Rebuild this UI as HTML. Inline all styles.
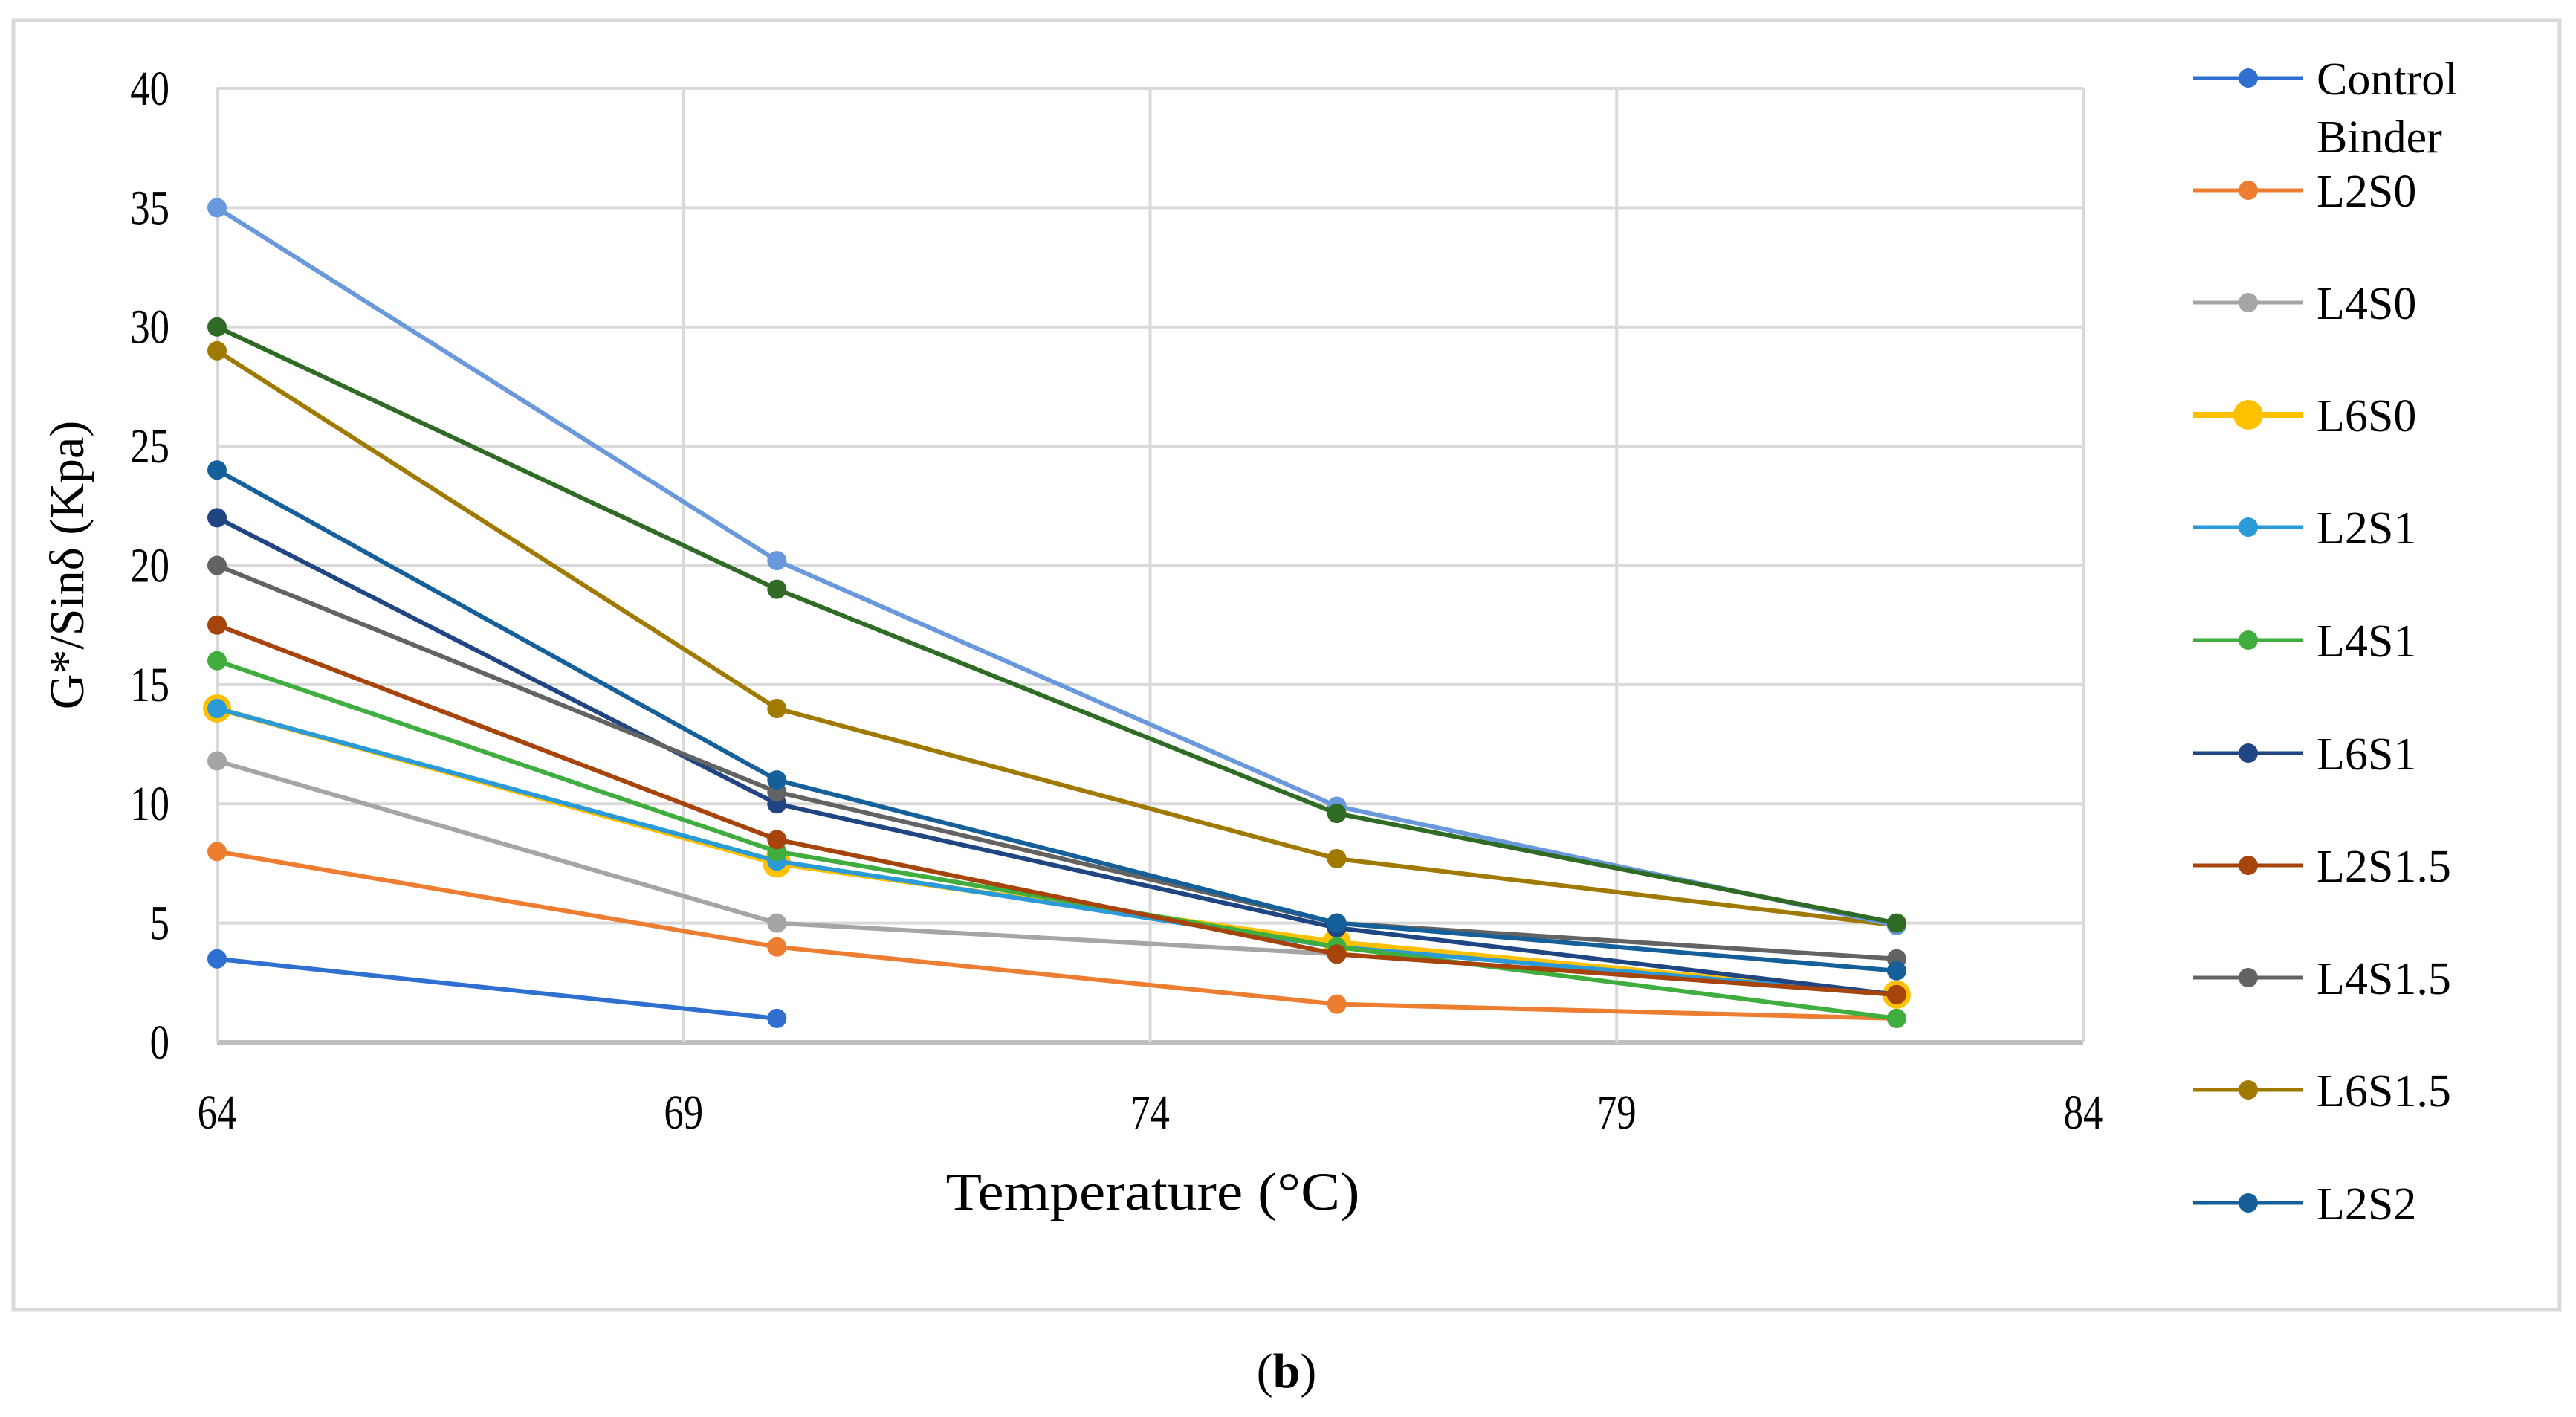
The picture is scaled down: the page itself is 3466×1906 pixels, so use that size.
<!DOCTYPE html>
<html><head><meta charset="utf-8"><style>
html,body{margin:0;padding:0;background:#fff;}
svg{display:block;}
text{font-family:"Liberation Serif",serif;fill:#000;}
</style></head><body>
<svg id="chart" width="3466" height="1906" xmlns="http://www.w3.org/2000/svg">
<rect x="18" y="27" width="3426" height="1735" fill="#fff" stroke="#d9d9d9" stroke-width="5"/>
<g id="grid"></g>
<g id="axes"></g>
<g id="series"></g>
<g id="legend"></g>
<text x="1551" y="1627" font-size="72" text-anchor="middle" textLength="557" lengthAdjust="spacingAndGlyphs">Temperature (°C)</text>
<text transform="translate(112,760) rotate(-90)" font-size="66" text-anchor="middle">G*/Sinδ (Kpa)</text>
<text x="1731" y="1866" font-size="66" text-anchor="middle">(<tspan font-weight="bold">b</tspan>)</text>
</svg>
<script>
const xValues = [64, 70, 76, 82];
const xTicks = [64, 69, 74, 79, 84];
const yTicks = [0, 5, 10, 15, 20, 25, 30, 35, 40];
const seriesNames = ["Control Binder","L2S0","L4S0","L6S0","L2S1","L4S1","L6S1","L2S1.5","L4S1.5","L6S1.5","L2S2","L4S2","L6S2"];
const sControl = [3.5, 1, null, null];
const sL2S0 = [8, 4, 1.6, 1];
const sL4S0 = [11.8, 5, 3.7, 2];
const sL6S0 = [14, 7.5, 4.2, 2];
const sL2S1 = [14, 7.6, 4, 2];
const sL4S1 = [16, 8, 4, 1];
const sL6S1 = [22, 10, 4.8, 2];
const sL2S15 = [17.5, 8.5, 3.7, 2];
const sL4S15 = [20, 10.5, 5, 3.5];
const sL6S15 = [29, 14, 7.7, 4.9];
const sL2S2 = [24, 11, 5, 3];
const sL4S2 = [35, 20.2, 9.9, 4.9];
const sL6S2 = [30, 19, 9.6, 5];
const seriesValues = [sControl,sL2S0,sL4S0,sL6S0,sL2S1,sL4S1,sL6S1,sL2S15,sL4S15,sL6S15,sL2S2,sL4S2,sL6S2];
const colors = ["#2f6fd0","#ED7D31","#A5A5A5","#FFC000","#2a9ad8","#3fae3f","#1f4683","#a6440c","#636363","#a07a00","#15609a","#6a98dc","#2f6b24"];
const legendCount = 11;

const NS = "http://www.w3.org/2000/svg";
const X0=292, X1=2803, Y0=1402, Y1=119;
function xs(v){return X0+(v-64)/(84-64)*(X1-X0);}
function ys(v){return Y0-(v-0)/(40-0)*(Y0-Y1);}
function mk(tag, attrs, parent){const e=document.createElementNS(NS,tag);for(const k in attrs)e.setAttribute(k,attrs[k]);parent.appendChild(e);return e;}
const grid=document.getElementById('grid'), axes=document.getElementById('axes'), ser=document.getElementById('series'), leg=document.getElementById('legend');

yTicks.forEach(t=>{
  const l=mk('line',{x1:X0,x2:X1,y1:ys(t),y2:ys(t),stroke:t===0?'#bfbfbf':'#d9d9d9','stroke-width':t===0?6:4},grid);
  
  
  const tx=mk('text',{x:228,y:ys(t)+22,'font-size':66,'text-anchor':'end',transform:`translate(${228*0.2},0) scale(0.8,1)`},axes);
  tx.setAttribute('x',228/0.8*1-228*0.2/0.8);
  tx.textContent=t;
  
  
});
xTicks.forEach(t=>{
  const l=mk('line',{x1:xs(t),x2:xs(t),y1:Y1,y2:Y0,stroke:'#d9d9d9','stroke-width':4},grid);
  
  
  const tx=mk('text',{x:xs(t)/0.8,y:1518,'font-size':66,'text-anchor':'middle',transform:'scale(0.8,1)'},axes);
  tx.textContent=t;
  
  
});

seriesValues.forEach((vals,i)=>{
  const g=mk('g',{},ser);
  
  
  const pts=[];
  vals.forEach((v,j)=>{if(v!==null)pts.push([xs(xValues[j]),ys(v)]);});
  const p=mk('polyline',{points:pts.map(p=>p.join(',')).join(' '),fill:'none',stroke:colors[i],'stroke-width':i===3?7:6,'stroke-linejoin':'round'},g);
  
  
  pts.forEach(pt=>{
    const c=mk('circle',{cx:pt[0],cy:pt[1],r:i===3?19:13,fill:colors[i]},g);
    
    
  });
});

const legY=[105,256,407,558,709,861,1013,1164,1315,1466,1618];
for(let i=0;i<legendCount;i++){
  const g=mk('g',{},leg);
  
  
  const y=legY[i];
  mk('line',{x1:2951,x2:3099,y1:y,y2:y,stroke:colors[i],'stroke-width':i===3?8:5},g);
  mk('circle',{cx:3025,cy:y,r:i===3?20:13,fill:colors[i]},g);
  if(i===0){
    const t=mk('text',{x:3117,y:y+22,'font-size':62},g); t.textContent='Control';
    const t2=mk('text',{x:3117,y:y+100,'font-size':62},g); t2.textContent='Binder';
  } else {
    const t=mk('text',{x:3117,y:y+22,'font-size':62},g); t.textContent=seriesNames[i];
  }
}
</script>
</body></html>
